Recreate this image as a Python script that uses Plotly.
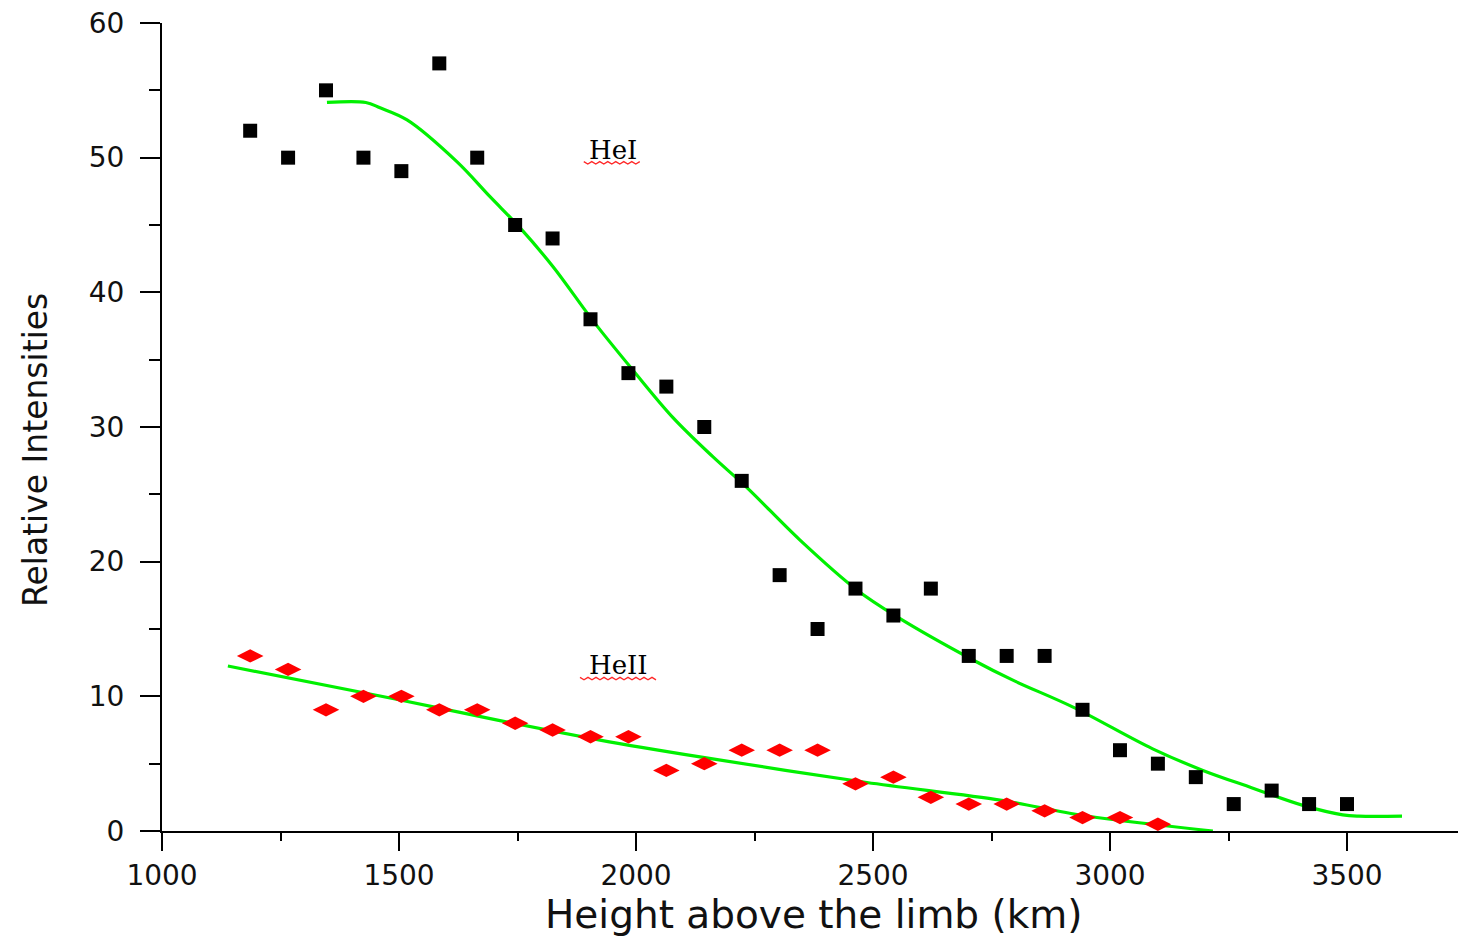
import plotly.graph_objects as go

# ---- data ----
height_km = [1186, 1266, 1346, 1425, 1505, 1585, 1665, 1745, 1824, 1904,
             1984, 2064, 2144, 2223, 2303, 2383, 2463, 2543, 2622, 2702,
             2782, 2862, 2942, 3021, 3101, 3181, 3261, 3341, 3420, 3500]
hei_intensity = [52, 50, 55, 50, 49, 57, 50, 45, 44, 38,
                 34, 33, 30, 26, 19, 15, 18, 16, 18, 13,
                 13, 13, 9, 6, 5, 4, 2, 3, 2, 2]

heii_height_km = height_km[:25]
heii_intensity = [13, 12, 9, 10, 10, 9, 9, 8, 7.5, 7,
                  7, 4.5, 5, 6, 6, 6, 3.5, 4, 2.5, 2,
                  2, 1.5, 1, 1, 0.5]

hei_fit_x = [1348, 1430, 1460, 1517, 1622, 1692, 1755, 1825, 1909, 1994,
             2078, 2162, 2234, 2346, 2466, 2551, 2711, 2795, 2922, 3090,
             3196, 3300, 3407, 3491, 3525, 3616]
hei_fit_y = [54.1, 54.1, 53.7, 52.8, 49.7, 47.1, 44.8, 41.9, 37.9, 34.2,
             30.7, 27.8, 25.5, 21.6, 17.9, 15.9, 12.7, 11.2, 9.2, 6.1,
             4.5, 3.2, 1.9, 1.2, 1.1, 1.1]

heii_fit_x = [1139, 1500, 1713, 1924, 2135, 2487, 2768, 2943, 3217]
heii_fit_y = [12.25, 9.75, 8.2, 6.75, 5.5, 3.6, 2.3, 1.15, 0.0]

labels = ["HeI", "HeII"]
label_x = [1951, 1962]
label_y = [50.6, 12.3]

x_ticks = [1000, 1500, 2000, 2500, 3000, 3500]
y_ticks = [0, 10, 20, 30, 40, 50, 60]

GREEN = "rgb(0,240,0)"
TXT = "#111"

fig = go.Figure()
fig.add_trace(go.Scatter(x=hei_fit_x, y=hei_fit_y, mode="lines", name="HeI fit",
                         line=dict(color=GREEN, width=3.2, shape="spline", smoothing=1.0)))
fig.add_trace(go.Scatter(x=heii_fit_x, y=heii_fit_y, mode="lines", name="HeII fit",
                         line=dict(color=GREEN, width=3.2, shape="spline", smoothing=0.8)))
fig.add_trace(go.Scatter(x=height_km, y=hei_intensity, mode="markers", name="HeI",
                         marker=dict(symbol="square", size=14, color="black")))
fig.add_trace(go.Scatter(x=heii_height_km, y=heii_intensity, mode="markers", name="HeII",
                         marker=dict(symbol="diamond-wide", size=19, color="rgb(255,0,0)")))

# labels with a red spell-check style squiggle under them
shapes = []
for txt, lx, ly in zip(labels, label_x, label_y):
    fig.add_annotation(x=lx, y=ly, text=txt, showarrow=False,
                       font=dict(family="DejaVu Serif", size=26, color="black"))
    half_w = len(txt) * 9.0 + 2  # px
    kmpp = 2.11   # km per pixel
    upp = 0.0742  # units per pixel
    x0 = lx - half_w * kmpp
    n = int(2 * half_w / 4)
    ybase = ly - 12 * upp
    pts = []
    for i in range(n + 1):
        xx = x0 + i * 4 * kmpp
        yy = ybase - (2.5 * upp if i % 2 else 0)
        pts.append(("M" if i == 0 else "L") + f"{xx},{yy}")
    shapes.append(dict(type="path", path=" ".join(pts), xref="x", yref="y",
                       line=dict(color="rgb(255,40,40)", width=1.3)))

# axis titles
fig.add_annotation(text="Height above the limb (km)", xref="paper", yref="paper",
                   x=0.5, y=0, xanchor="center", yanchor="middle", yshift=-83,
                   showarrow=False, font=dict(family="DejaVu Sans", size=39, color=TXT))
fig.add_annotation(text="Relative Intensities", xref="paper", yref="paper",
                   x=0, y=0.4715, xanchor="center", yanchor="middle", xshift=-127,
                   textangle=-90, showarrow=False,
                   font=dict(family="DejaVu Sans", size=33, color=TXT))

# the page body adds an 8px offset; size the figure so the plot lands where the reference has it
fig.update_layout(
    width=1458, height=928,
    margin=dict(l=154, r=0, t=15, b=105),
    paper_bgcolor="white", plot_bgcolor="white",
    showlegend=False,
    shapes=shapes,
    font=dict(family="DejaVu Sans", color=TXT),
)
fig.update_xaxes(
    range=[1000, 3751], tickvals=x_ticks, ticktext=[str(v) for v in x_ticks],
    automargin=False, ticklabeloverflow="allow",
    showgrid=False, zeroline=False, showline=True, linecolor="black", linewidth=2,
    ticks="outside", ticklen=18, tickwidth=2, tickcolor="black",
    tickfont=dict(family="DejaVu Sans", size=28, color=TXT),
    minor=dict(ticks="outside", dtick=250, ticklen=8, tickwidth=2, tickcolor="black", showgrid=False),
)
fig.update_yaxes(
    range=[0, 60], tickvals=y_ticks, ticktext=[str(v) for v in y_ticks],
    automargin=False, ticklabeloverflow="allow",
    showgrid=False, zeroline=False, showline=True, linecolor="black", linewidth=2,
    ticks="outside", ticklen=20, tickwidth=2, tickcolor="black", ticklabelstandoff=10,
    tickfont=dict(family="DejaVu Sans", size=28, color=TXT),
    minor=dict(ticks="outside", dtick=5, ticklen=11, tickwidth=2, tickcolor="black", showgrid=False),
)

fig.write_html("out.html")
